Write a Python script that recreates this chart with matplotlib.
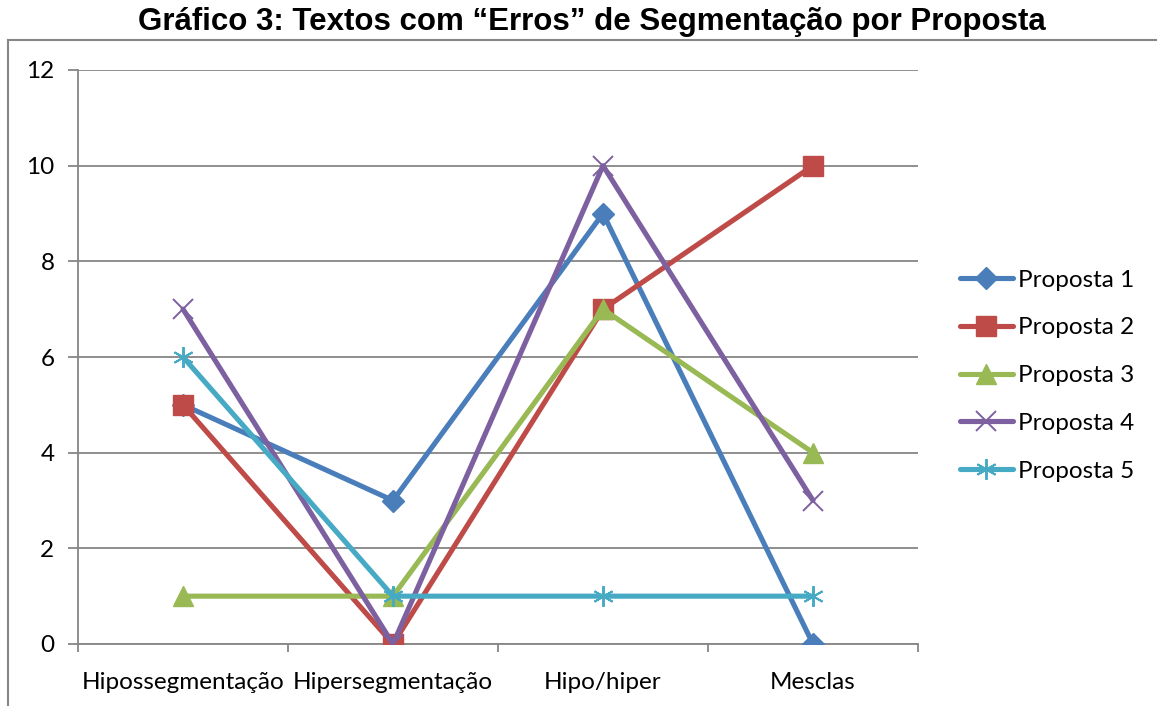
import matplotlib
matplotlib.use("Agg")
import matplotlib.pyplot as plt
from matplotlib.lines import Line2D

categories = ["Hipossegmentação", "Hipersegmentação", "Hipo/hiper", "Mesclas"]
series_names = ["Proposta 1", "Proposta 2", "Proposta 3", "Proposta 4", "Proposta 5"]
proposta1 = [5, 3, 9, 0]
proposta2 = [5, 0, 7, 10]
proposta3 = [1, 1, 7, 4]
proposta4 = [7, 0, 10, 3]
proposta5 = [6, 1, 1, 1]
yticks = [0, 2, 4, 6, 8, 10, 12]
title = "Gráfico 3: Textos com “Erros” de Segmentação por Proposta"

series = [proposta1, proposta2, proposta3, proposta4, proposta5]
colors = ["#4A7EBB", "#BE4B48", "#98B954", "#7D60A0", "#46AAC5"]
markers = ["D", "s", "^", "x", (6, 2, 0)]
msizes = [11.5, 14, 14, 14, 15]

W, H = 1157, 706
fig = plt.figure(figsize=(W / 100, H / 100), dpi=100)
ax = fig.add_axes([78 / W, 1 - 644 / H, (918 - 78) / W, (644 - 70) / H])

font = "Lato"
fs = 17.5
x = list(range(len(categories)))
for vals, name, c, m, ms in zip(series, series_names, colors, markers, msizes):
    ax.plot(x, vals, color=c, lw=3.7, marker=m, markersize=ms,
            markerfacecolor=c, markeredgecolor=c,
            markeredgewidth=1.4 if m in ("x",) or isinstance(m, tuple) else 1,
            label=name, solid_capstyle="round", zorder=3)

ax.set_xlim(-0.5, len(categories) - 0.5)
ax.set_ylim(0, 12)
ax.set_yticks(yticks)
ax.set_yticklabels([str(v) for v in yticks], fontfamily=font, fontsize=fs)
ax.set_xticks(x)
ax.set_xticklabels(categories, fontfamily=font, fontsize=fs)
ax.tick_params(axis="x", length=0, pad=20)
ax.set_xticks([i - 0.5 for i in range(len(categories) + 1)], minor=True)
ax.tick_params(axis="x", which="minor", length=6, color="#868686", width=1.3)
ax.tick_params(axis="y", length=7, color="#868686", width=1.3, pad=10)
ax.yaxis.grid(True, color="#868686", lw=1.3)
ax.set_axisbelow(True)
for s in ["top", "right"]:
    ax.spines[s].set_visible(False)
for s in ["left", "bottom"]:
    ax.spines[s].set_color("#868686")
    ax.spines[s].set_linewidth(1.3)

leg = fig.legend(loc="upper left", bbox_to_anchor=(950 / W, 1 - 260 / H),
                 frameon=False, prop={"family": font, "size": fs},
                 handlelength=2.2, handletextpad=0.2, labelspacing=1.1,
                 borderaxespad=0)

fig.text(592 / W, 1 - 22 / H, title, ha="center", va="center",
         fontfamily="Liberation Sans", fontweight="bold", fontsize=22.5)

# outer frame
fig.add_artist(Line2D([8 / W, 8 / W], [0, 1 - 40 / H], transform=fig.transFigure,
                      color="#868686", lw=1.5))
fig.add_artist(Line2D([8 / W, 1], [1 - 40 / H, 1 - 40 / H], transform=fig.transFigure,
                      color="#868686", lw=1.5))

fig.savefig("out.png", dpi=100)
